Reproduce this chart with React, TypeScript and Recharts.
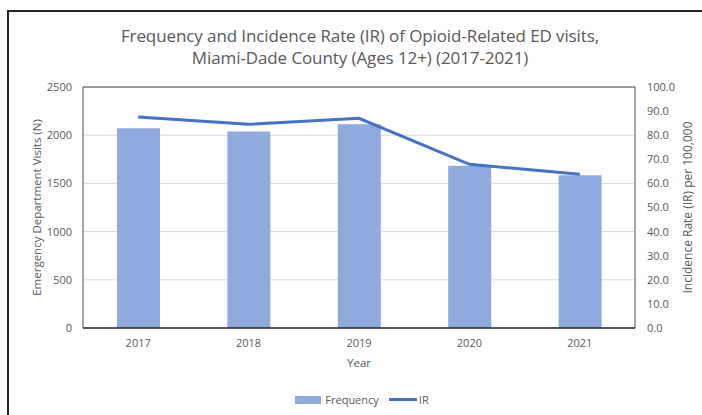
import {
  ComposedChart,
  Bar,
  Line,
  XAxis,
  YAxis,
  CartesianGrid,
  Legend,
  ReferenceLine,
} from "recharts";

const years = ["2017", "2018", "2019", "2020", "2021"];
const frequency = [2072, 2038, 2114, 1682, 1585];
const incidenceRate = [87.6, 84.5, 87.0, 67.9, 63.8];
const leftTicks = [0, 500, 1000, 1500, 2000, 2500];
const rightTicks = [0, 10, 20, 30, 40, 50, 60, 70, 80, 90, 100];

const chartData = years.map((year, i) => ({
  year,
  frequency: frequency[i],
  ir: incidenceRate[i],
}));

const FONT = "'Open Sans', sans-serif";
const TEXT_COLOR = "#595959";
const BAR_COLOR = "#8FAADC";
const LINE_COLOR = "#4472C4";
const BORDER = "#4d4d4d";

const LegendContent = () => (
  <div
    style={{
      display: "flex",
      justifyContent: "center",
      alignItems: "center",
      fontFamily: FONT,
      fontSize: 11,
      color: TEXT_COLOR,
      paddingLeft: 22,
    }}
  >
    <span
      style={{ width: 26, height: 8, background: BAR_COLOR, marginRight: 4 }}
    />
    <span style={{ marginRight: 10 }}>Frequency</span>
    <span
      style={{ width: 28, height: 3, background: LINE_COLOR, marginRight: 2 }}
    />
    <span>IR</span>
  </div>
);

const App = () => {
  return (
    <div
      style={{
        position: "absolute",
        left: 0,
        top: 0,
        width: 702,
        height: 415,
        background: "#fff",
        overflow: "hidden",
      }}
    >
      <div
        style={{
          position: "absolute",
          left: 7,
          top: 10,
          width: 720,
          height: 440,
          borderLeft: "2px solid #262626",
          borderTop: "2px solid #262626",
        }}
      />
      <div
        style={{
          position: "absolute",
          left: 0,
          top: 25,
          width: 720,
          textAlign: "center",
          fontFamily: FONT,
          fontSize: 17,
          letterSpacing: -0.1,
          lineHeight: "22px",
          color: TEXT_COLOR,
        }}
      >
        Frequency and Incidence Rate (IR) of Opioid-Related ED visits,
        <br />
        Miami-Dade County (Ages 12+) (2017-2021)
      </div>
      <ComposedChart
        width={702}
        height={415}
        data={chartData}
        margin={{ top: 87, right: 7, bottom: 42, left: 33 }}
        style={{ position: "absolute", left: 0, top: 0 }}
      >
        <CartesianGrid
          vertical={false}
          stroke="#d9d9d9"
          yAxisId="left"
        />
        <XAxis
          dataKey="year"
          height={45}
          tickLine={false}
          axisLine={{ stroke: "#262626", strokeWidth: 1.5 }}
          tickMargin={5}
          tick={{ fill: TEXT_COLOR, fontSize: 11, fontFamily: FONT }}
          label={{
            value: "Year",
            position: "center",
            dy: 12,
            fill: TEXT_COLOR,
            fontSize: 11.5,
            fontFamily: FONT,
          }}
        />
        <YAxis
          yAxisId="left"
          width={50}
          domain={[0, 2500]}
          ticks={leftTicks}
          tickLine={false}
          axisLine={{ stroke: BORDER }}
          tickMargin={5}
          tick={{ fill: TEXT_COLOR, fontSize: 11, fontFamily: FONT }}
          label={{
            value: "Emergency Department Visits (N)",
            angle: -90,
            position: "center",
            dx: -21,
            fill: TEXT_COLOR,
            fontSize: 11.5,
            fontFamily: FONT,
          }}
        />
        <YAxis
          yAxisId="right"
          orientation="right"
          width={60}
          domain={[0, 100]}
          ticks={rightTicks}
          tickFormatter={(v: number) => v.toFixed(1)}
          tickLine={false}
          axisLine={{ stroke: BORDER }}
          tickMargin={6}
          tick={{ fill: TEXT_COLOR, fontSize: 11, fontFamily: FONT }}
          label={{
            value: "Incidence Rate (IR) per 100,000",
            angle: -90,
            position: "center",
            dx: 23,
            fill: TEXT_COLOR,
            fontSize: 12,
            fontFamily: FONT,
          }}
        />
        <ReferenceLine yAxisId="left" y={2500} stroke={BORDER} />
        <Bar
          yAxisId="left"
          dataKey="frequency"
          name="Frequency"
          fill={BAR_COLOR}
          barSize={43}
          isAnimationActive={false}
        />
        <Line
          yAxisId="right"
          dataKey="ir"
          name="IR"
          type="linear"
          stroke={LINE_COLOR}
          strokeWidth={3}
          dot={false}
          isAnimationActive={false}
        />
        <Legend
          layout="horizontal"
          verticalAlign="middle"
          align="center"
          wrapperStyle={{ top: 392, left: 0, width: 702 }}
          content={() => <LegendContent />}
        />
      </ComposedChart>
    </div>
  );
};

export default App;
